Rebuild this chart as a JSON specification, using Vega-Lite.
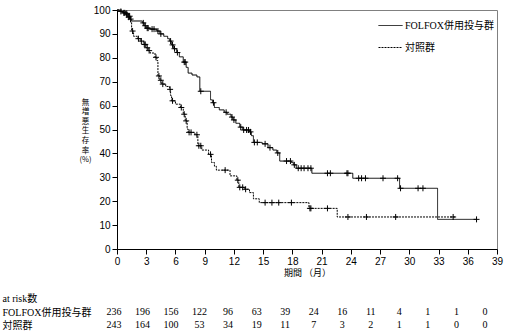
{
  "$schema": "https://vega.github.io/schema/vega-lite/v6.json",
  "padding": {"left": 2, "top": 4, "right": 2, "bottom": 2},
  "background": "white",
  "config": {
    "view": {"stroke": "#808080", "strokeWidth": 1},
    "font": "Liberation Sans",
    "axis": {"labelColor": "black", "titleColor": "black", "domainColor": "black", "tickColor": "black", "grid": false, "labelFont": "Liberation Sans", "labelFontSize": 10, "titleFont": "Noto Sans CJK JP", "titleFontWeight": "normal", "titleFontSize": 9, "tickSize": 5, "labelOverlap": false, "labelPadding": 2, "labelFlush": false, "labelBound": false},
    "axisX": {"titlePadding": 2},
    "axisY": {"titleAngle": 0, "titleAlign": "center", "titleBaseline": "middle", "titleX": -32, "titleY": 92, "titleFontSize": 7.5, "titleLineHeight": 9.6}
  },
  "datasets": {
    "curve": [
      {"g": "FOLFOX併用投与群", "t": 0, "s": 100}, {"g": "FOLFOX併用投与群", "t": 0.3, "s": 99.4}, {"g": "FOLFOX併用投与群", "t": 0.6, "s": 98.8}, {"g": "FOLFOX併用投与群", "t": 0.9, "s": 98.0}, {"g": "FOLFOX併用投与群", "t": 1.1, "s": 97.0}, {"g": "FOLFOX併用投与群", "t": 1.3, "s": 96.2}, {"g": "FOLFOX併用投与群", "t": 1.5, "s": 95.4}, {"g": "FOLFOX併用投与群", "t": 2.6, "s": 94.6}, {"g": "FOLFOX併用投与群", "t": 2.8, "s": 93.4}, {"g": "FOLFOX併用投与群", "t": 3.0, "s": 92.4}, {"g": "FOLFOX併用投与群", "t": 3.4, "s": 92.0}, {"g": "FOLFOX併用投与群", "t": 4.1, "s": 91.2}, {"g": "FOLFOX併用投与群", "t": 4.4, "s": 90.0}, {"g": "FOLFOX併用投与群", "t": 4.8, "s": 89.0}, {"g": "FOLFOX併用投与群", "t": 5.2, "s": 88.0}, {"g": "FOLFOX併用投与群", "t": 5.4, "s": 87.0}, {"g": "FOLFOX併用投与群", "t": 5.6, "s": 85.4}, {"g": "FOLFOX併用投与群", "t": 5.8, "s": 83.8}, {"g": "FOLFOX併用投与群", "t": 6.1, "s": 82.2}, {"g": "FOLFOX併用投与群", "t": 6.4, "s": 80.4}, {"g": "FOLFOX併用投与群", "t": 6.8, "s": 78.2}, {"g": "FOLFOX併用投与群", "t": 7.1, "s": 76.0}, {"g": "FOLFOX併用投与群", "t": 7.3, "s": 73.6}, {"g": "FOLFOX併用投与群", "t": 7.7, "s": 72.8}, {"g": "FOLFOX併用投与群", "t": 8.2, "s": 72.0}, {"g": "FOLFOX併用投与群", "t": 8.5, "s": 66.0}, {"g": "FOLFOX併用投与群", "t": 9.6, "s": 62.4}, {"g": "FOLFOX併用投与群", "t": 9.8, "s": 61.2}, {"g": "FOLFOX併用投与群", "t": 10.0, "s": 59.2}, {"g": "FOLFOX併用投与群", "t": 10.5, "s": 58.2}, {"g": "FOLFOX併用投与群", "t": 11.0, "s": 57.2}, {"g": "FOLFOX併用投与群", "t": 11.3, "s": 56.4}, {"g": "FOLFOX併用投与群", "t": 11.7, "s": 55.2}, {"g": "FOLFOX併用投与群", "t": 11.9, "s": 54.0}, {"g": "FOLFOX併用投与群", "t": 12.2, "s": 52.6}, {"g": "FOLFOX併用投与群", "t": 12.6, "s": 51.0}, {"g": "FOLFOX併用投与群", "t": 12.9, "s": 49.8}, {"g": "FOLFOX併用投与群", "t": 13.6, "s": 49.0}, {"g": "FOLFOX併用投与群", "t": 13.8, "s": 47.4}, {"g": "FOLFOX併用投与群", "t": 14.0, "s": 44.6}, {"g": "FOLFOX併用投与群", "t": 14.9, "s": 44.0}, {"g": "FOLFOX併用投与群", "t": 15.5, "s": 42.4}, {"g": "FOLFOX併用投与群", "t": 16.0, "s": 41.4}, {"g": "FOLFOX併用投与群", "t": 16.4, "s": 40.2}, {"g": "FOLFOX併用投与群", "t": 16.7, "s": 36.8}, {"g": "FOLFOX併用投与群", "t": 17.9, "s": 36.2}, {"g": "FOLFOX併用投与群", "t": 18.1, "s": 35.2}, {"g": "FOLFOX併用投与群", "t": 18.4, "s": 33.8}, {"g": "FOLFOX併用投与群", "t": 20.0, "s": 31.7}, {"g": "FOLFOX併用投与群", "t": 24.2, "s": 29.6}, {"g": "FOLFOX併用投与群", "t": 29.0, "s": 25.4}, {"g": "FOLFOX併用投与群", "t": 32.9, "s": 12.4}, {"g": "FOLFOX併用投与群", "t": 36.9, "s": 12.4},
      {"g": "対照群", "t": 0, "s": 100}, {"g": "対照群", "t": 0.5, "s": 99.4}, {"g": "対照群", "t": 0.9, "s": 98.6}, {"g": "対照群", "t": 1.2, "s": 97.4}, {"g": "対照群", "t": 1.4, "s": 94.8}, {"g": "対照群", "t": 1.5, "s": 91.2}, {"g": "対照群", "t": 1.7, "s": 89.0}, {"g": "対照群", "t": 2.1, "s": 88.0}, {"g": "対照群", "t": 2.4, "s": 87.0}, {"g": "対照群", "t": 2.7, "s": 85.6}, {"g": "対照群", "t": 3.0, "s": 84.2}, {"g": "対照群", "t": 3.2, "s": 83.0}, {"g": "対照群", "t": 3.4, "s": 82.0}, {"g": "対照群", "t": 3.9, "s": 80.2}, {"g": "対照群", "t": 4.1, "s": 78.8}, {"g": "対照群", "t": 4.2, "s": 72.4}, {"g": "対照群", "t": 4.4, "s": 70.6}, {"g": "対照群", "t": 4.6, "s": 69.0}, {"g": "対照群", "t": 5.0, "s": 68.0}, {"g": "対照群", "t": 5.4, "s": 66.8}, {"g": "対照群", "t": 5.5, "s": 64.2}, {"g": "対照群", "t": 5.6, "s": 62.0}, {"g": "対照群", "t": 6.0, "s": 60.6}, {"g": "対照群", "t": 6.5, "s": 59.2}, {"g": "対照群", "t": 6.8, "s": 56.4}, {"g": "対照群", "t": 7.0, "s": 53.6}, {"g": "対照群", "t": 7.2, "s": 50.2}, {"g": "対照群", "t": 7.3, "s": 48.8}, {"g": "対照群", "t": 8.0, "s": 47.8}, {"g": "対照群", "t": 8.3, "s": 43.2}, {"g": "対照群", "t": 8.7, "s": 41.4}, {"g": "対照群", "t": 9.4, "s": 39.6}, {"g": "対照群", "t": 9.7, "s": 36.2}, {"g": "対照群", "t": 10.0, "s": 34.6}, {"g": "対照群", "t": 10.2, "s": 33.0}, {"g": "対照群", "t": 11.6, "s": 30.6}, {"g": "対照群", "t": 12.3, "s": 28.8}, {"g": "対照群", "t": 12.5, "s": 25.8}, {"g": "対照群", "t": 13.1, "s": 25.0}, {"g": "対照群", "t": 13.6, "s": 23.6}, {"g": "対照群", "t": 14.0, "s": 21.0}, {"g": "対照群", "t": 14.6, "s": 19.4}, {"g": "対照群", "t": 19.7, "s": 17.0}, {"g": "対照群", "t": 22.6, "s": 13.4}, {"g": "対照群", "t": 34.7, "s": 13.4}
    ],
    "censor": [
      {"t": 0.4, "s": 99.4}, {"t": 0.7, "s": 98.8}, {"t": 0.8, "s": 98.8}, {"t": 1.0, "s": 98.0}, {"t": 1.2, "s": 97.0}, {"t": 1.4, "s": 96.2}, {"t": 2.7, "s": 94.6}, {"t": 2.9, "s": 93.4}, {"t": 3.1, "s": 92.4}, {"t": 3.2, "s": 92.4}, {"t": 3.6, "s": 92.0}, {"t": 3.8, "s": 92.0}, {"t": 4.2, "s": 91.2}, {"t": 4.5, "s": 90.0}, {"t": 5.5, "s": 87.0}, {"t": 5.7, "s": 85.4}, {"t": 5.9, "s": 83.8}, {"t": 6.2, "s": 82.2}, {"t": 6.9, "s": 78.2}, {"t": 7.0, "s": 78.2}, {"t": 8.6, "s": 66.0}, {"t": 9.9, "s": 61.2}, {"t": 11.2, "s": 57.2}, {"t": 11.8, "s": 55.2}, {"t": 12.0, "s": 54.0}, {"t": 12.7, "s": 51.0}, {"t": 13.0, "s": 49.8}, {"t": 13.3, "s": 49.8}, {"t": 13.5, "s": 49.8}, {"t": 13.7, "s": 49.0}, {"t": 14.1, "s": 44.6}, {"t": 14.4, "s": 44.6}, {"t": 15.2, "s": 44.0}, {"t": 15.7, "s": 42.4}, {"t": 16.5, "s": 40.2}, {"t": 17.4, "s": 36.8}, {"t": 17.8, "s": 36.8}, {"t": 18.2, "s": 35.2}, {"t": 18.6, "s": 33.8}, {"t": 18.9, "s": 33.8}, {"t": 19.2, "s": 33.8}, {"t": 19.6, "s": 33.8}, {"t": 19.9, "s": 33.8}, {"t": 21.6, "s": 31.7}, {"t": 21.9, "s": 31.7}, {"t": 23.6, "s": 31.7}, {"t": 23.7, "s": 31.7}, {"t": 24.8, "s": 29.6}, {"t": 25.1, "s": 29.6}, {"t": 25.5, "s": 29.6}, {"t": 27.3, "s": 29.6}, {"t": 28.8, "s": 29.6}, {"t": 29.1, "s": 25.4}, {"t": 30.9, "s": 25.4}, {"t": 31.4, "s": 25.4}, {"t": 36.9, "s": 12.4},
      {"t": 1.0, "s": 98.6}, {"t": 1.3, "s": 97.4}, {"t": 1.6, "s": 91.2}, {"t": 2.2, "s": 88.0}, {"t": 2.5, "s": 87.0}, {"t": 2.8, "s": 85.6}, {"t": 2.9, "s": 85.6}, {"t": 3.1, "s": 84.2}, {"t": 3.3, "s": 83.0}, {"t": 4.0, "s": 80.2}, {"t": 4.3, "s": 72.4}, {"t": 4.5, "s": 70.6}, {"t": 4.7, "s": 69.0}, {"t": 5.45, "s": 66.8}, {"t": 5.7, "s": 62.0}, {"t": 6.6, "s": 59.2}, {"t": 6.9, "s": 56.4}, {"t": 7.1, "s": 53.6}, {"t": 7.4, "s": 48.8}, {"t": 7.6, "s": 48.8}, {"t": 8.2, "s": 47.8}, {"t": 8.4, "s": 43.2}, {"t": 8.6, "s": 43.2}, {"t": 9.6, "s": 39.6}, {"t": 11.1, "s": 33.0}, {"t": 12.4, "s": 28.8}, {"t": 12.6, "s": 25.8}, {"t": 12.9, "s": 25.8}, {"t": 13.2, "s": 25.0}, {"t": 15.2, "s": 19.4}, {"t": 15.9, "s": 19.4}, {"t": 16.6, "s": 19.4}, {"t": 17.9, "s": 19.4}, {"t": 19.8, "s": 17.0}, {"t": 19.9, "s": 17.0}, {"t": 21.6, "s": 17.0}, {"t": 23.7, "s": 13.4}, {"t": 25.6, "s": 13.4}, {"t": 28.6, "s": 13.4}, {"t": 34.5, "s": 13.4}
    ],
    "risk": [
      {"row": "FOLFOX併用投与群", "col": 0, "n": 236}, {"row": "FOLFOX併用投与群", "col": 3, "n": 196}, {"row": "FOLFOX併用投与群", "col": 6, "n": 156}, {"row": "FOLFOX併用投与群", "col": 9, "n": 122}, {"row": "FOLFOX併用投与群", "col": 12, "n": 96}, {"row": "FOLFOX併用投与群", "col": 15, "n": 63}, {"row": "FOLFOX併用投与群", "col": 18, "n": 39}, {"row": "FOLFOX併用投与群", "col": 21, "n": 24}, {"row": "FOLFOX併用投与群", "col": 24, "n": 16}, {"row": "FOLFOX併用投与群", "col": 27, "n": 11}, {"row": "FOLFOX併用投与群", "col": 30, "n": 4}, {"row": "FOLFOX併用投与群", "col": 33, "n": 1}, {"row": "FOLFOX併用投与群", "col": 36, "n": 1}, {"row": "FOLFOX併用投与群", "col": 39, "n": 0},
      {"row": "対照群", "col": 0, "n": 243}, {"row": "対照群", "col": 3, "n": 164}, {"row": "対照群", "col": 6, "n": 100}, {"row": "対照群", "col": 9, "n": 53}, {"row": "対照群", "col": 12, "n": 34}, {"row": "対照群", "col": 15, "n": 19}, {"row": "対照群", "col": 18, "n": 11}, {"row": "対照群", "col": 21, "n": 7}, {"row": "対照群", "col": 24, "n": 3}, {"row": "対照群", "col": 27, "n": 2}, {"row": "対照群", "col": 30, "n": 1}, {"row": "対照群", "col": 33, "n": 1}, {"row": "対照群", "col": 36, "n": 0}, {"row": "対照群", "col": 39, "n": 0}
    ]
  },
  "spacing": 14,
  "vconcat": [
    {
      "width": 380,
      "height": 239,
      "layer": [
        {
          "mark": {"type": "rule", "strokeDash": [1, 1], "color": "#555555", "strokeWidth": 1},
          "encoding": {"y": {"datum": 50, "type": "quantitative", "scale": {"domain": [0, 100], "nice": false},
            "axis": {"values": [0, 10, 20, 30, 40, 50, 60, 70, 80, 90, 100], "title": ["無", "増", "悪", "生", "存", "率", "(%)"], "labelOverlap": false}}}
        },
        {
          "data": {"name": "curve"},
          "mark": {"type": "line", "interpolate": "step-after", "color": "black", "strokeWidth": 1},
          "encoding": {
            "x": {"field": "t", "type": "quantitative", "scale": {"domain": [0, 39], "nice": false},
              "axis": {"values": [0, 3, 6, 9, 12, 15, 18, 21, 24, 27, 30, 33, 36, 39], "title": "期間 （月）", "labelOverlap": false}},
            "y": {"field": "s", "type": "quantitative",
              "axis": {"values": [0, 10, 20, 30, 40, 50, 60, 70, 80, 90, 100], "title": ["無", "増", "悪", "生", "存", "率", "(%)"], "labelOverlap": false}},
            "strokeDash": {"field": "g", "type": "nominal",
              "scale": {"domain": ["FOLFOX併用投与群", "対照群"], "range": [[1, 0], [2, 1]]},
              "legend": {"title": null, "orient": "none", "legendX": 261, "legendY": 3, "symbolType": "stroke", "symbolSize": 576, "symbolStrokeWidth": 1, "symbolStrokeColor": "black", "labelFont": "Liberation Serif, Noto Sans CJK JP", "labelFontSize": 10, "labelColor": "black", "labelOffset": 2, "rowPadding": 4, "padding": 0}}
          }
        },
        {
          "data": {"name": "censor"},
          "mark": {"type": "point", "shape": "M-1,0H1M0,-1V1", "filled": false, "color": "black", "size": 36, "strokeWidth": 1, "opacity": 1},
          "encoding": {
            "x": {"field": "t", "type": "quantitative",
              "axis": {"values": [0, 3, 6, 9, 12, 15, 18, 21, 24, 27, 30, 33, 36, 39], "title": "期間 （月）", "labelOverlap": false}},
            "y": {"field": "s", "type": "quantitative",
              "axis": {"values": [0, 10, 20, 30, 40, 50, 60, 70, 80, 90, 100], "title": ["無", "増", "悪", "生", "存", "率", "(%)"], "labelOverlap": false}}
          }
        }
      ]
    },
    {
      "width": 380,
      "height": 40,
      "view": {"stroke": null},
      "data": {"name": "risk"},
      "mark": {"type": "text", "font": "Liberation Serif", "fontSize": 10, "color": "black"},
      "encoding": {
        "x": {"field": "col", "type": "quantitative", "scale": {"domain": [0.32, 40.27], "nice": false, "zero": false}, "axis": null},
        "y": {"field": "row", "type": "nominal", "scale": {"domain": ["at risk数", "FOLFOX併用投与群", "対照群"]},
          "axis": {"title": null, "domain": false, "ticks": false, "tickSize": 0, "labelAlign": "left", "labelPadding": 115, "labelFont": "Liberation Serif, Noto Sans CJK JP", "labelFontSize": 10, "labelColor": "black", "labelBound": false}},
        "text": {"field": "n", "type": "nominal"}
      }
    }
  ]
}
